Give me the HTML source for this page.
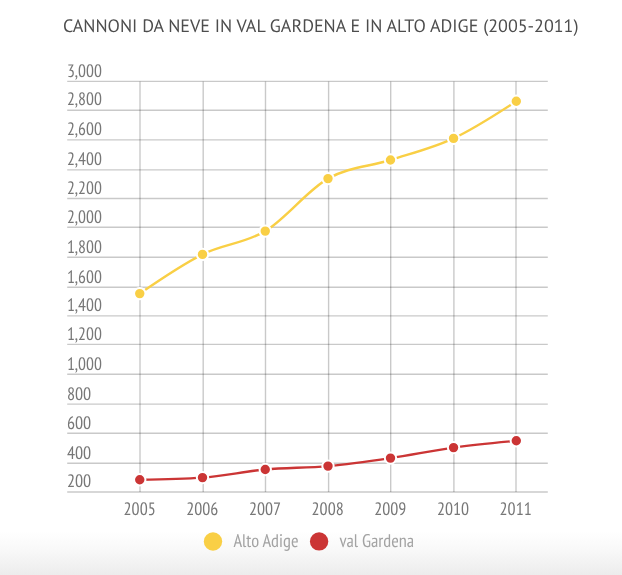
<!DOCTYPE html>
<html><head><meta charset="utf-8"><style>
html,body{margin:0;padding:0;width:622px;height:575px;overflow:hidden;background:#fff}
svg{display:block;will-change:transform}
.t{font-family:"PT Sans","Liberation Sans",sans-serif}
.n{font-family:"PT Sans Narrow","Liberation Sans Narrow","Liberation Sans",sans-serif}
</style></head><body>
<svg width="622" height="575" viewBox="0 0 622 575" text-rendering="geometricPrecision">
<defs><linearGradient id="bg" x1="0" y1="0" x2="0" y2="1">
<stop offset="0" stop-color="#ffffff"/><stop offset="0.4" stop-color="#f9f9f9"/><stop offset="1" stop-color="#ececec"/></linearGradient></defs>
<rect x="0" y="0" width="622" height="575" fill="#fff"/>
<rect x="0" y="531" width="622" height="44" fill="url(#bg)"/>
<text class="t" x="62.9" y="32" textLength="515.6" lengthAdjust="spacingAndGlyphs" font-size="18" fill="#4d4d4d">CANNONI DA NEVE IN VAL GARDENA E IN ALTO ADIGE (2005-2011)</text>
<g stroke="#000" stroke-opacity="0.21" stroke-width="1.4"><line x1="67.2" x2="547.8" y1="81.40" y2="81.40"/><line x1="67.2" x2="547.8" y1="110.30" y2="110.30"/><line x1="67.2" x2="547.8" y1="139.90" y2="139.90"/><line x1="67.2" x2="547.8" y1="169.90" y2="169.90"/><line x1="67.2" x2="547.8" y1="198.50" y2="198.50"/><line x1="67.2" x2="547.8" y1="227.30" y2="227.30"/><line x1="67.2" x2="547.8" y1="257.20" y2="257.20"/><line x1="67.2" x2="547.8" y1="287.30" y2="287.30"/><line x1="67.2" x2="547.8" y1="315.90" y2="315.90"/><line x1="67.2" x2="547.8" y1="344.40" y2="344.40"/><line x1="67.2" x2="547.8" y1="374.30" y2="374.30"/><line x1="67.2" x2="547.8" y1="404.10" y2="404.10"/><line x1="67.2" x2="547.8" y1="433.20" y2="433.20"/><line x1="67.2" x2="547.8" y1="463.30" y2="463.30"/><line x1="67.2" x2="547.8" y1="492.00" y2="492.00"/><line x1="140.00" x2="140.00" y1="81.40" y2="492.00"/><line x1="203.20" x2="203.20" y1="81.40" y2="492.00"/><line x1="265.50" x2="265.50" y1="81.40" y2="492.00"/><line x1="328.60" x2="328.60" y1="81.40" y2="492.00"/><line x1="390.70" x2="390.70" y1="81.40" y2="492.00"/><line x1="453.90" x2="453.90" y1="81.40" y2="492.00"/><line x1="516.00" x2="516.00" y1="81.40" y2="492.00"/></g>
<g class="n" font-size="18" fill="#777"><text x="66.9" y="77.1" textLength="34.95" lengthAdjust="spacingAndGlyphs">3,000</text><text x="66.9" y="104.9" textLength="34.95" lengthAdjust="spacingAndGlyphs">2,800</text><text x="66.9" y="134.9" textLength="34.95" lengthAdjust="spacingAndGlyphs">2,600</text><text x="66.9" y="165.0" textLength="34.95" lengthAdjust="spacingAndGlyphs">2,400</text><text x="66.9" y="194.0" textLength="34.95" lengthAdjust="spacingAndGlyphs">2,200</text><text x="66.9" y="222.9" textLength="34.95" lengthAdjust="spacingAndGlyphs">2,000</text><text x="66.9" y="252.8" textLength="34.95" lengthAdjust="spacingAndGlyphs">1,800</text><text x="66.9" y="282.8" textLength="34.95" lengthAdjust="spacingAndGlyphs">1,600</text><text x="66.9" y="311.0" textLength="34.95" lengthAdjust="spacingAndGlyphs">1,400</text><text x="66.9" y="339.9" textLength="34.95" lengthAdjust="spacingAndGlyphs">1,200</text><text x="66.9" y="369.8" textLength="34.95" lengthAdjust="spacingAndGlyphs">1,000</text><text x="66.9" y="399.7" textLength="24.31" lengthAdjust="spacingAndGlyphs">800</text><text x="66.9" y="428.8" textLength="24.31" lengthAdjust="spacingAndGlyphs">600</text><text x="66.9" y="458.6" textLength="24.31" lengthAdjust="spacingAndGlyphs">400</text><text x="66.9" y="487.0" textLength="24.31" lengthAdjust="spacingAndGlyphs">200</text></g>
<g class="n" font-size="18" fill="#777" text-anchor="middle"><text x="139.65" y="515" textLength="32.1" lengthAdjust="spacingAndGlyphs">2005</text><text x="202.32" y="515" textLength="32.1" lengthAdjust="spacingAndGlyphs">2006</text><text x="264.98" y="515" textLength="32.1" lengthAdjust="spacingAndGlyphs">2007</text><text x="327.65" y="515" textLength="32.1" lengthAdjust="spacingAndGlyphs">2008</text><text x="390.32" y="515" textLength="32.1" lengthAdjust="spacingAndGlyphs">2009</text><text x="452.98" y="515" textLength="32.1" lengthAdjust="spacingAndGlyphs">2010</text><text x="515.65" y="515" textLength="32.1" lengthAdjust="spacingAndGlyphs">2011</text></g>
<path d="M139.75,293.60C160.67,279.21,181.58,264.82,202.50,254.40C223.42,243.98,244.33,243.73,265.25,231.10C286.17,218.47,307.08,190.45,328.00,178.60C348.83,166.80,369.67,166.67,390.50,160.00C411.52,153.27,432.53,148.22,453.55,138.40C474.47,128.63,495.38,114.96,516.30,101.30" fill="none" stroke="#f9cf45" stroke-width="2.4"/>
<path d="M139.75,479.70C160.67,479.35,181.58,479.00,202.50,477.60C223.42,476.20,244.33,471.42,265.25,469.50C286.17,467.58,307.08,468.01,328.00,466.10C348.83,464.20,369.67,461.17,390.50,458.10C411.52,455.01,432.53,450.49,453.55,447.60C474.47,444.73,495.38,442.76,516.30,440.80" fill="none" stroke="#cb3535" stroke-width="2.4"/>
<circle cx="139.75" cy="293.6" r="5.7" fill="#f9cf45" stroke="#fff" stroke-width="2"/><circle cx="202.50" cy="254.4" r="5.7" fill="#f9cf45" stroke="#fff" stroke-width="2"/><circle cx="265.25" cy="231.1" r="5.7" fill="#f9cf45" stroke="#fff" stroke-width="2"/><circle cx="328.00" cy="178.6" r="5.7" fill="#f9cf45" stroke="#fff" stroke-width="2"/><circle cx="390.50" cy="160.0" r="5.7" fill="#f9cf45" stroke="#fff" stroke-width="2"/><circle cx="453.55" cy="138.4" r="5.7" fill="#f9cf45" stroke="#fff" stroke-width="2"/><circle cx="516.30" cy="101.3" r="5.7" fill="#f9cf45" stroke="#fff" stroke-width="2"/>
<circle cx="139.75" cy="479.7" r="5.7" fill="#cb3535" stroke="#fff" stroke-width="2"/><circle cx="202.50" cy="477.6" r="5.7" fill="#cb3535" stroke="#fff" stroke-width="2"/><circle cx="265.25" cy="469.5" r="5.7" fill="#cb3535" stroke="#fff" stroke-width="2"/><circle cx="328.00" cy="466.1" r="5.7" fill="#cb3535" stroke="#fff" stroke-width="2"/><circle cx="390.50" cy="458.1" r="5.7" fill="#cb3535" stroke="#fff" stroke-width="2"/><circle cx="453.55" cy="447.6" r="5.7" fill="#cb3535" stroke="#fff" stroke-width="2"/><circle cx="516.30" cy="440.8" r="5.7" fill="#cb3535" stroke="#fff" stroke-width="2"/>
<circle cx="213" cy="541.5" r="9.2" fill="#f9cf45"/>
<text class="n" x="233.4" y="547" font-size="18.3" textLength="65.05" lengthAdjust="spacingAndGlyphs" fill="#a3a3a3">Alto Adige</text>
<circle cx="319.1" cy="541.4" r="9.2" fill="#cb3535"/>
<text class="n" x="339.4" y="547" font-size="18.3" textLength="74.67" lengthAdjust="spacingAndGlyphs" fill="#a3a3a3">val Gardena</text>
</svg>
</body></html>
